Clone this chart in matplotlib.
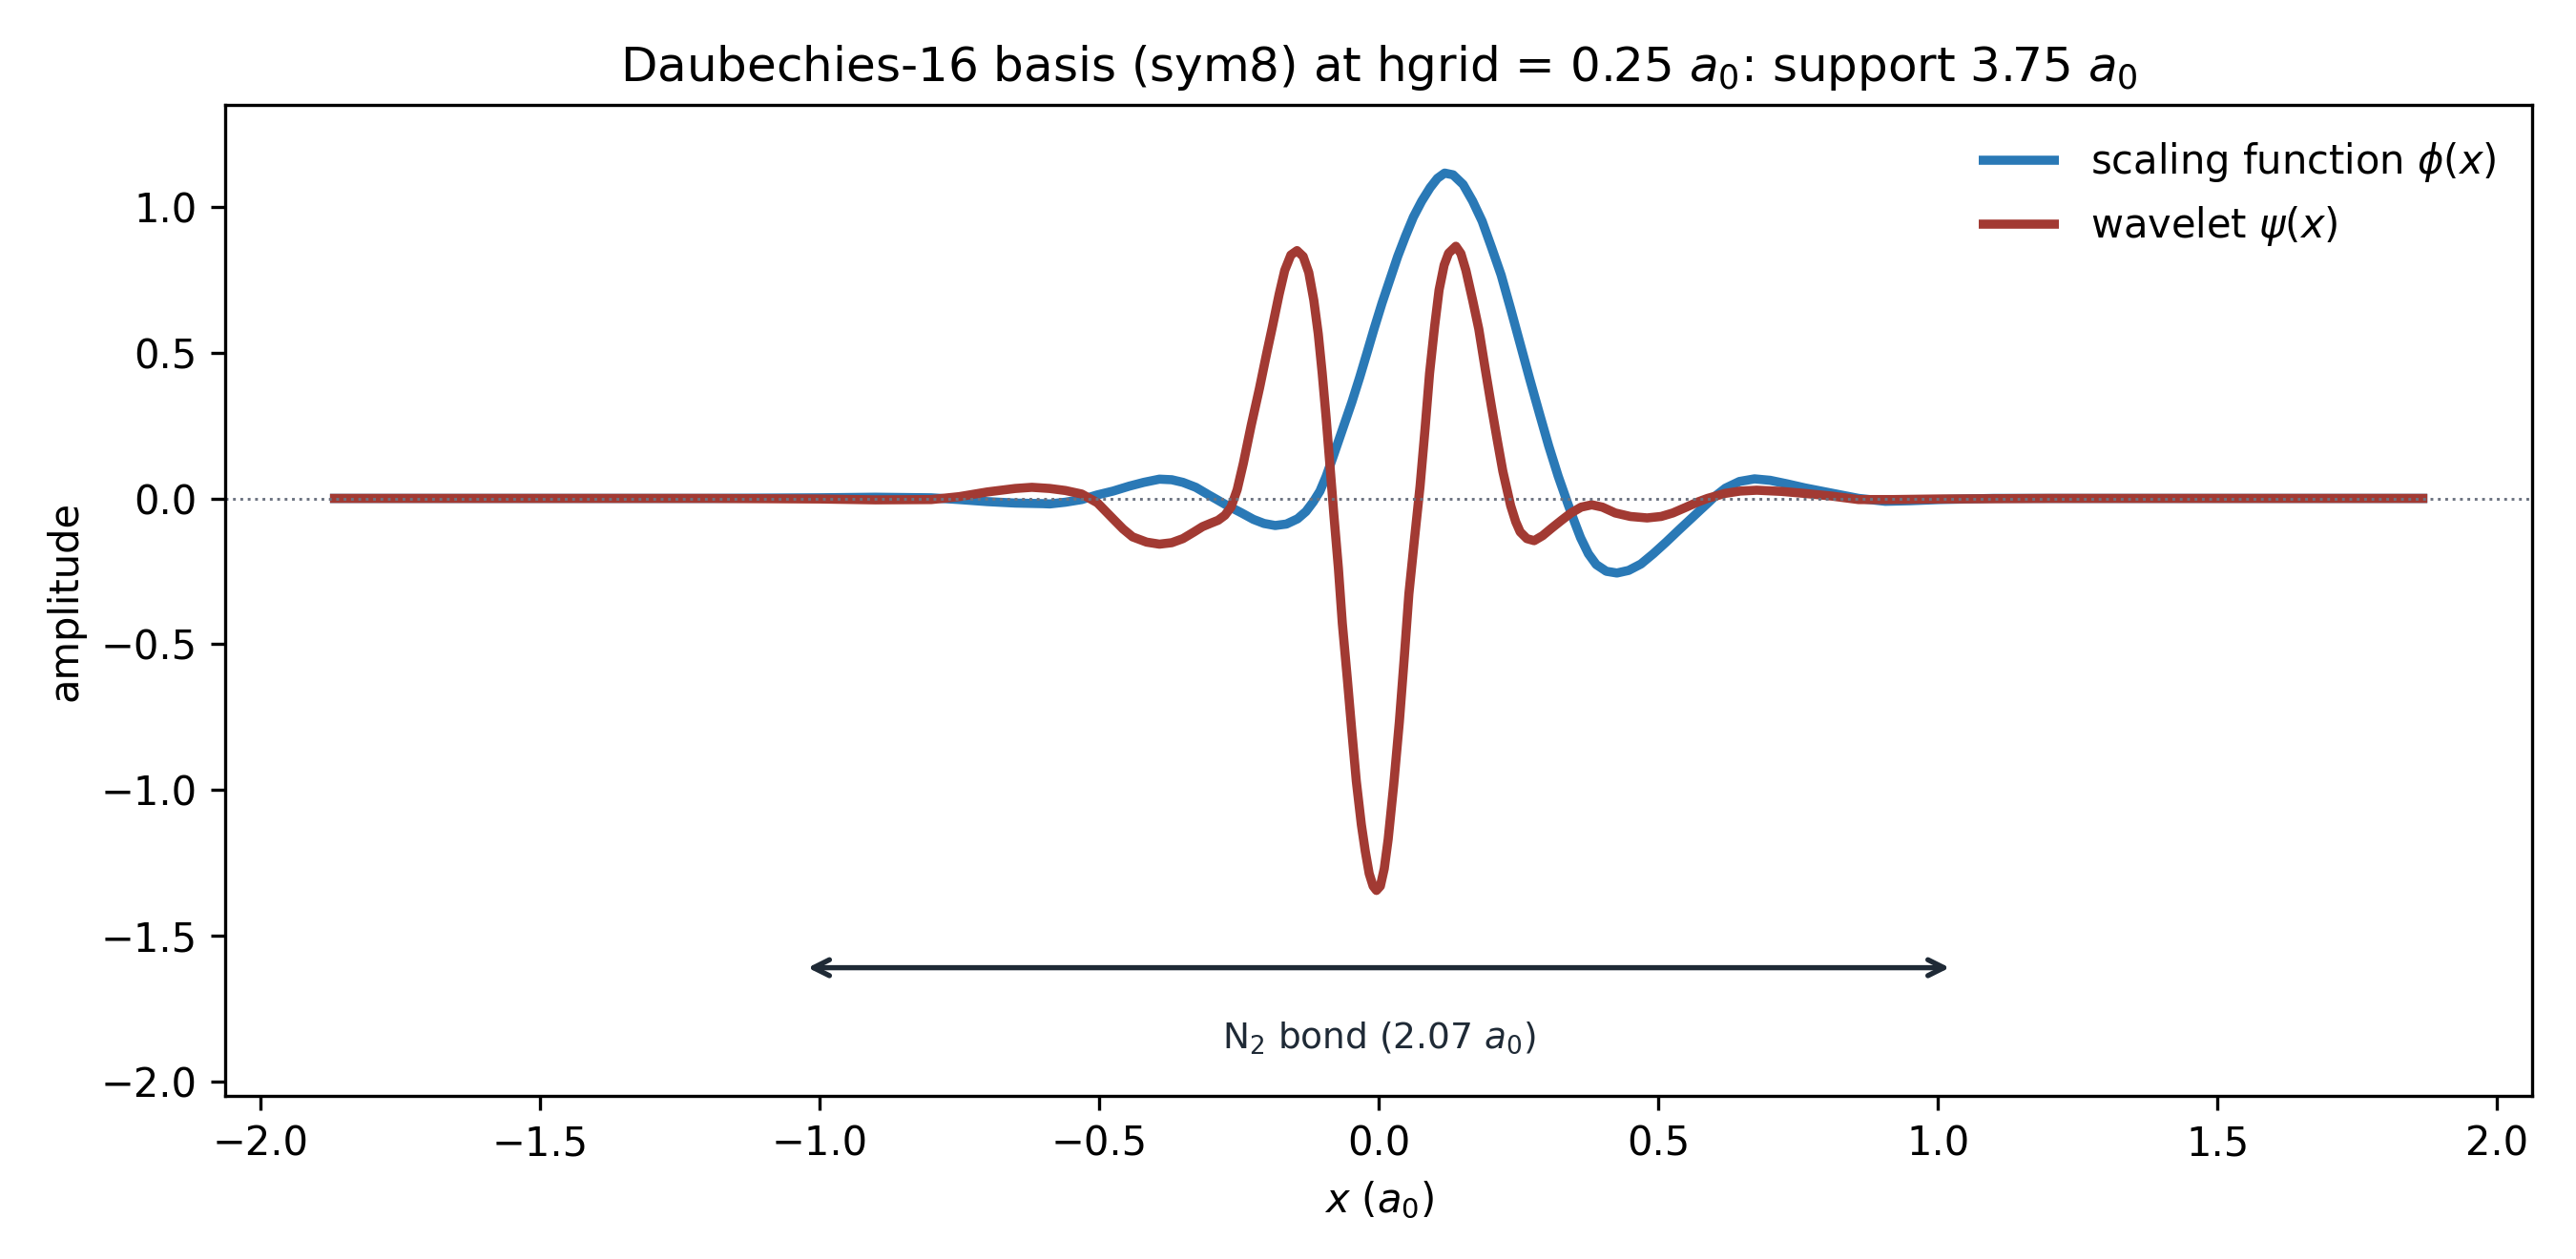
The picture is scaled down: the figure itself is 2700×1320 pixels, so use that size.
import numpy as np
import matplotlib
matplotlib.use("Agg")
import matplotlib.pyplot as plt

# sym8 basis, x in a0
phi_x = [-1.875, -1.5, -1.2, -1.0, -0.9, -0.8, -0.75, -0.7, -0.65, -0.6, -0.588, -0.56,
         -0.531, -0.503, -0.475, -0.446, -0.42, -0.392, -0.37, -0.35, -0.327, -0.304,
         -0.293, -0.273, -0.245, -0.224, -0.205, -0.185, -0.165, -0.145, -0.13, -0.117,
         -0.105, -0.094, -0.082, -0.065, -0.048, -0.034, -0.020, -0.0085, 0.006, 0.020,
         0.034, 0.048, 0.062, 0.077, 0.092, 0.105, 0.118, 0.133, 0.151, 0.168, 0.185,
         0.202, 0.219, 0.236, 0.253, 0.270, 0.287, 0.304, 0.321, 0.338, 0.350, 0.361,
         0.375, 0.389, 0.407, 0.426, 0.447, 0.469, 0.491, 0.514, 0.537, 0.560, 0.575,
         0.588, 0.600, 0.620, 0.645, 0.672, 0.700, 0.730, 0.762, 0.810, 0.858, 0.906,
         0.950, 1.002, 1.1, 1.5, 1.875]
phi_y = [0.0, 0.0, 0.0, 0.002, 0.004, 0.002, -0.004, -0.011, -0.016, -0.018, -0.019, -0.013,
         -0.004, 0.012, 0.025, 0.042, 0.055, 0.066, 0.064, 0.055, 0.038, 0.012,
         0.0, -0.022, -0.05, -0.072, -0.086, -0.093, -0.088, -0.07, -0.045, -0.012,
         0.025, 0.075, 0.14, 0.235, 0.33, 0.415, 0.505, 0.58, 0.67, 0.75,
         0.83, 0.9, 0.965, 1.02, 1.066, 1.098, 1.116, 1.11, 1.077, 1.02, 0.951,
         0.86, 0.766, 0.65, 0.53, 0.41, 0.294, 0.18, 0.076, -0.017, -0.08, -0.135,
         -0.19, -0.227, -0.25, -0.256, -0.247, -0.225, -0.19, -0.15, -0.108, -0.067, -0.04,
         -0.017, 0.005, 0.035, 0.058, 0.067, 0.062, 0.05, 0.036, 0.018, 0.0, -0.01,
         -0.008, -0.004, 0.0, 0.0, 0.0]

psi_x = [-1.875, -1.5, -1.2, -1.0, -0.9, -0.8, -0.75, -0.7, -0.65, -0.62, -0.588, -0.56,
         -0.531, -0.503, -0.475, -0.457, -0.44, -0.415, -0.392, -0.37, -0.35, -0.33,
         -0.315, -0.3, -0.287, -0.275, -0.264, -0.253, -0.242, -0.228, -0.213, -0.2,
         -0.19, -0.178, -0.168, -0.157, -0.146, -0.135, -0.125, -0.116, -0.108, -0.101,
         -0.094, -0.087, -0.08, -0.072, -0.065, -0.056, -0.048, -0.04, -0.031, -0.024,
         -0.017, -0.01, -0.004, 0.003, 0.010, 0.017, 0.027, 0.037, 0.046, 0.054,
         0.064, 0.074, 0.083, 0.091, 0.100, 0.108, 0.117, 0.125, 0.138, 0.147,
         0.156, 0.168, 0.179, 0.190, 0.202, 0.212, 0.222, 0.236, 0.245, 0.253,
         0.265, 0.278, 0.293, 0.310, 0.327, 0.344, 0.362, 0.381, 0.400, 0.423,
         0.450, 0.480, 0.505, 0.526, 0.550, 0.571, 0.588, 0.619, 0.646, 0.676,
         0.720, 0.762, 0.810, 0.858, 0.920, 1.0, 1.2, 1.5, 1.875]
psi_y = [0.0, 0.0, 0.0, -0.002, -0.005, -0.004, 0.006, 0.022, 0.034, 0.038, 0.034, 0.027,
         0.015, -0.015, -0.07, -0.105, -0.132, -0.15, -0.157, -0.152, -0.138, -0.115,
         -0.097, -0.085, -0.075, -0.058, -0.03, 0.03, 0.12, 0.25, 0.379, 0.5,
         0.589, 0.7, 0.782, 0.835, 0.85, 0.83, 0.775, 0.68, 0.564, 0.43,
         0.278, 0.11, -0.059, -0.24, -0.429, -0.62, -0.799, -0.97, -1.119, -1.21,
         -1.287, -1.33, -1.345, -1.33, -1.27, -1.169, -0.98, -0.766, -0.54, -0.328,
         -0.14, 0.042, 0.24, 0.429, 0.59, 0.715, 0.80, 0.841, 0.865, 0.84,
         0.782, 0.68, 0.581, 0.45, 0.311, 0.2, 0.093, -0.025, -0.08, -0.115,
         -0.138, -0.145, -0.128, -0.101, -0.075, -0.05, -0.03, -0.022, -0.03, -0.05,
         -0.062, -0.067, -0.062, -0.05, -0.03, -0.012, 0.0, 0.017, 0.025, 0.028,
         0.024, 0.017, 0.008, -0.004, -0.004, -0.002, 0.0, 0.0, 0.0]

bond = 2.07

fig, ax = plt.subplots(figsize=(9, 4.4), dpi=300)
fig.subplots_adjust(left=0.0874, right=0.983, bottom=0.1295, top=0.9167)

ax.plot(phi_x, phi_y, color="#2a79b6", lw=2.3, solid_capstyle="butt",
        solid_joinstyle="round", label=r"scaling function $\phi(x)$")
ax.plot(psi_x, psi_y, color="#a23a33", lw=2.3, solid_capstyle="butt",
        solid_joinstyle="round", label=r"wavelet $\psi(x)$")
ax.axhline(0, color="#6b7280", lw=0.7, ls=":")

ax.annotate("", xy=(bond / 2, -1.61), xytext=(-bond / 2, -1.61),
            arrowprops=dict(arrowstyle="<->", color="#1f2a36", lw=1.3))
ax.text(0, -1.85, r"N$_2$ bond (2.07 $a_0$)", ha="center", va="center",
        fontsize=9, color="#1f2a36")

ax.set_ylim(-2.05, 1.35)
ax.set_title(r"Daubechies-16 basis (sym8) at hgrid = 0.25 $a_0$: support 3.75 $a_0$")
ax.set_xlabel(r"$x$ ($a_0$)")
ax.set_ylabel("amplitude")
ax.legend(loc="upper right", frameon=False)

fig.savefig("out.png", dpi=300)
